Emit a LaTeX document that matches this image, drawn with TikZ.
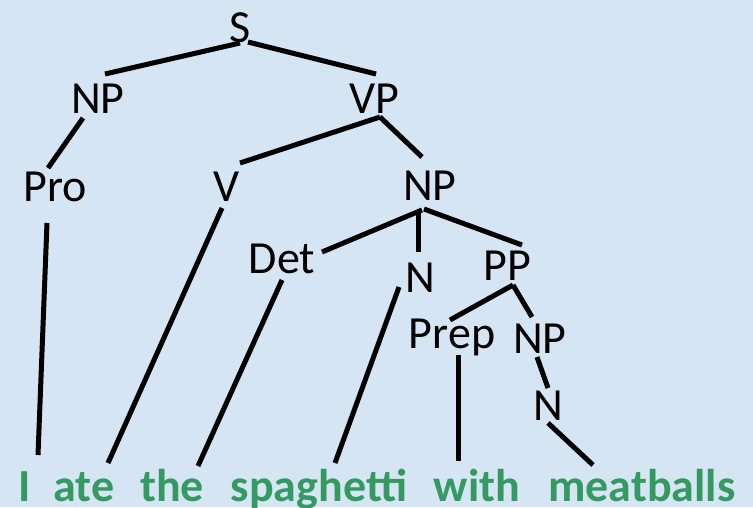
\documentclass[tikz,border=0pt]{standalone}
\usepackage{fontspec}
\setmainfont{Carlito}
\usepackage{xcolor}
\definecolor{paper}{RGB}{214,229,243}
\definecolor{leaf}{RGB}{52,154,98}
\tikzset{
  cat/.style={anchor=base,inner sep=0pt,font=\fontsize{46}{50}\selectfont},
  word/.style={anchor=base,inner sep=0pt,text=leaf,font=\fontsize{46}{50}\selectfont\bfseries},
  branch/.style={line width=5pt}
}

\begin{document}
\begin{tikzpicture}[x=1pt,y=-1pt]
\fill[paper] (0,0) rectangle (753,507);
\useasboundingbox (0,0) rectangle (753,507);

% categories
\node[cat] (S)     at (240,42)  {S};
\node[cat] (np)    at (98,113)  {NP};
\node[cat] (vp)    at (374,113) {VP};
\node[cat] (Pro)   at (55,201)  {Pro};
\node[cat] (V)     at (227,201) {V};
\node[cat] (obj)   at (430,200) {NP};
\node[cat] (Det)   at (282,273) {Det};
\node[cat] (noun)  at (420,292) {N};
\node[cat] (PP)    at (507,280) {PP};
\node[cat] (Prep)  at (452,348) {Prep};
\node[cat] (pobj)  at (540,353) {NP};
\node[cat] (pnoun) at (548,420) {N};

% the sentence
\node[word] (I)         at (25,501)  {I};
\node[word] (ate)       at (84,501)  {ate};
\node[word] (the)       at (172,501) {the};
\node[word] (spaghetti) at (319,501) {spaghetti};
\node[word] (with)      at (477,501) {with};
\node[word] (meatballs) at (642,501) {meatballs};

% branches
\draw[branch] ([shift={(0,1)}]S.base)    -- ([shift={(7,-39)}]np.base);
\draw[branch] ([shift={(8,0)}]S.base)    -- ([shift={(2,-39)}]vp.base);
\draw[branch] ([shift={(-15,5)}]np.base) -- ([shift={(-7,-33)}]Pro.base);
\draw[branch] ([shift={(6,4)}]vp.base)   -- ([shift={(13,-38)}]V.base);
\draw[branch] ([shift={(6,4)}]vp.base)   -- ([shift={(-8,-43)}]obj.base);
\draw[branch] ([shift={(-8,10)}]obj.base)  -- ([shift={(40,-21)}]Det.base);
\draw[branch] ([shift={(-12,10)}]obj.base) -- ([shift={(-2,-40)}]noun.base);
\draw[branch] ([shift={(-6,9)}]obj.base)   -- ([shift={(15,-35)}]PP.base);
\draw[branch] ([shift={(6,5)}]PP.base)   -- ([shift={(-2,-28)}]Prep.base);
\draw[branch] ([shift={(6,5)}]PP.base)   -- ([shift={(-8,-36)}]pobj.base);
\draw[branch] ([shift={(-3,4)}]pobj.base) -- ([shift={(0,-32)}]pnoun.base);

% leaves
\draw[branch] ([shift={(-8,22)}]Pro.base)   -- ([shift={(13,-46)}]I.base);
\draw[branch] ([shift={(-5,7)}]V.base)      -- ([shift={(24,-38)}]ate.base);
\draw[branch] ([shift={(0,7)}]Det.base)     -- ([shift={(26,-35)}]the.base);
\draw[branch] ([shift={(-21,-5)}]noun.base) -- ([shift={(16,-38)}]spaghetti.base);
\draw[branch] ([shift={(6,7)}]Prep.base)    -- ([shift={(-19,-40)}]with.base);
\draw[branch] ([shift={(0,3)}]pnoun.base)   -- ([shift={(-49,-36)}]meatballs.base);
\end{tikzpicture}
\end{document}
